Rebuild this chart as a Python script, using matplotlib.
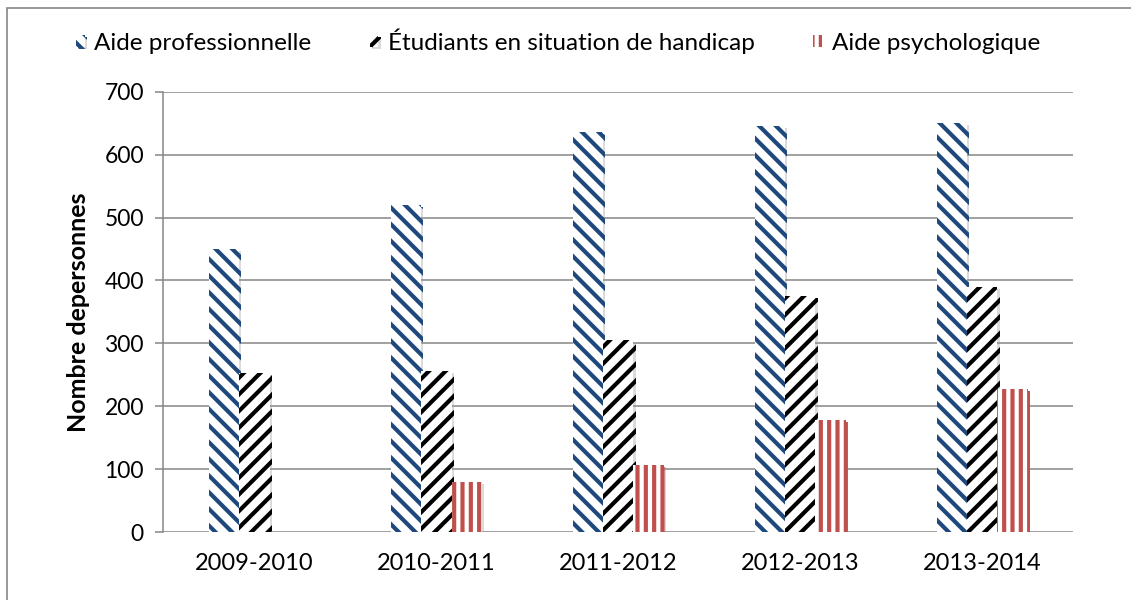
import matplotlib.pyplot as plt
import matplotlib.patheffects as pe
import numpy as np
from matplotlib.patches import Rectangle

annees = ['2009-2010', '2010-2011', '2011-2012', '2012-2013', '2013-2014']
aide_pro = [450, 520, 636, 646, 651]
handicap = [253, 256, 305, 375, 390]
aide_psy = [0, 80, 107, 178, 227]

plt.rcParams['font.family'] = ['Lato', 'DejaVu Sans']
plt.rcParams['hatch.linewidth'] = 3.0

fig = plt.figure(figsize=(11.31, 6), dpi=100)
ax = fig.add_axes([0.1445, 0.1133, 0.8045, 0.7337])

x = np.arange(len(annees))
w = 0.166
gris = '#868686'
ombre = [pe.SimplePatchShadow(offset=(1.5, -1.5), shadow_rgbFace='#999999', alpha=0.35),
         pe.Normal()]

series = [
    (aide_pro, -w, '#1F497D', '\\\\', 'Aide professionnelle'),
    (handicap, 0, '#000000', '//', 'Étudiants en situation de handicap'),
    (aide_psy, w, '#C0504D', '||', 'Aide psychologique'),
]
for vals, dx, coul, motif, nom in series:
    barres = ax.bar(x + dx, vals, w, color='white', edgecolor=coul, hatch=motif,
                    linewidth=0, label=nom, zorder=3)
    for b in barres:
        if b.get_height() > 0:
            b.set_path_effects(ombre)

ax.set_xlim(-0.5, len(annees) - 0.5)
ax.set_ylim(0, 700)
ax.set_yticks(range(0, 701, 100))
ax.set_xticks(x)
ax.set_xticklabels(annees)
ax.yaxis.grid(True, color=gris, linewidth=1.1, zorder=0)
ax.set_axisbelow(True)
for s in ['top', 'right', 'bottom']:
    ax.spines[s].set_visible(False)
ax.spines['left'].set_color(gris)
ax.spines['left'].set_linewidth(1.1)
ax.tick_params(axis='y', length=6, color=gris, width=1.1, labelsize=16.5, pad=8)
ax.tick_params(axis='x', length=0, labelsize=17, pad=15)

ax.set_ylabel('Nombre depersonnes', fontsize=18, fontweight='bold', labelpad=10)

leg = fig.legend(loc='center', bbox_to_anchor=(0.4934, 0.932), ncol=3, frameon=False,
                 fontsize=17.5, handlelength=0.35, handleheight=0.35,
                 handletextpad=0.4, columnspacing=2.4)

# cadre du graphique
fig.patches.append(Rectangle((7 / 1131, -0.1), 1.2, 1 - 8 / 600 + 0.1,
                             transform=fig.transFigure, fill=False,
                             edgecolor=gris, linewidth=1.2))

fig.savefig('out.png', dpi=100)
